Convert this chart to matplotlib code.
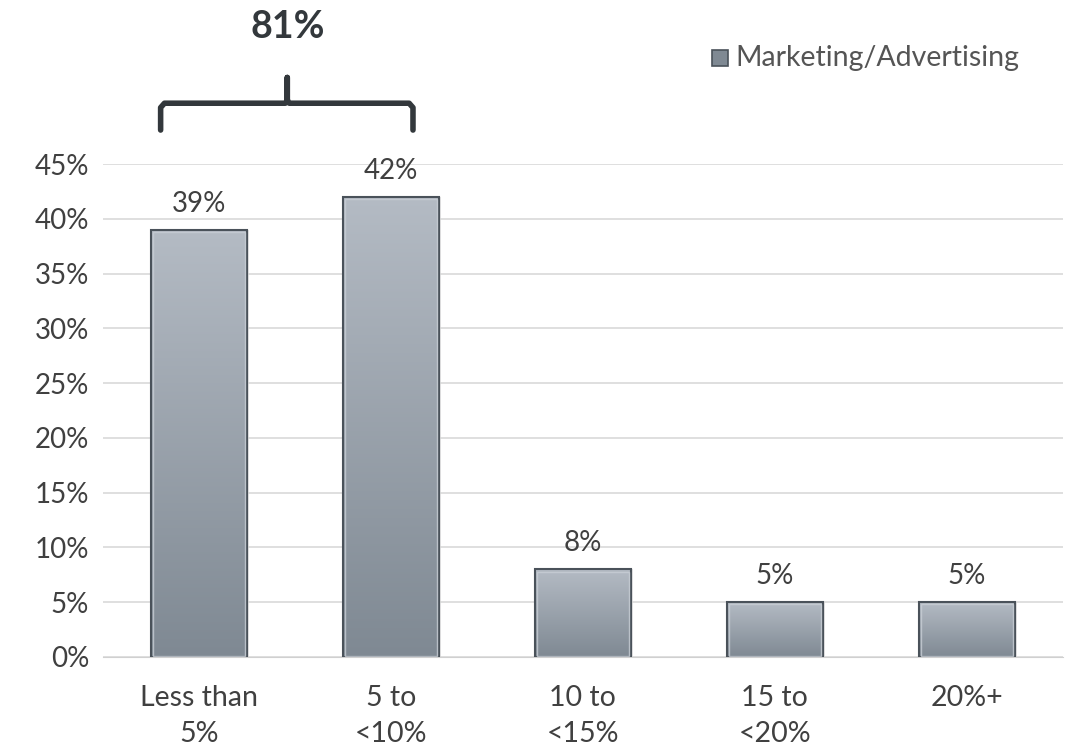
import numpy as np
import matplotlib
matplotlib.use("Agg")
import matplotlib.pyplot as plt
from matplotlib.patches import Rectangle
from matplotlib.lines import Line2D

categories = ["Less than\n5%", "5 to\n<10%", "10 to\n<15%", "15 to\n<20%", "20%+"]
values = [0.39, 0.42, 0.08, 0.05, 0.05]
labels = ["39%", "42%", "8%", "5%", "5%"]
yticks = [0, 0.05, 0.10, 0.15, 0.20, 0.25, 0.30, 0.35, 0.40, 0.45]
ytick_labels = ["0%", "5%", "10%", "15%", "20%", "25%", "30%", "35%", "40%", "45%"]
series_name = "Marketing/Advertising"
brace_label = "81%"

plt.rcParams['font.family'] = ['Lato', 'DejaVu Sans']
txt = "#404040"

fig = plt.figure(figsize=(10.69, 7.51), dpi=100)
ax = fig.add_axes([0.0964, 0.1252, 0.8976, 0.6564])
x = np.arange(len(values))
width = 0.5

ax.set_xlim(-0.5, len(values) - 0.5)
ax.set_ylim(0, 0.45)
ax.set_yticks(yticks)
ax.set_yticklabels(ytick_labels, fontsize=20, color=txt)
ax.set_xticks(x)
ax.set_xticklabels(categories, fontsize=20.5, color=txt, linespacing=1.5)
ax.tick_params(axis='x', length=0, pad=20)
ax.tick_params(axis='y', length=0, pad=10)
for s in ["top", "right", "left"]:
    ax.spines[s].set_visible(False)
ax.spines["bottom"].set_color("#d0d0d0")
ax.grid(axis='y', color="#d9d9d9", linewidth=1.2)
ax.set_axisbelow(True)

grad = np.linspace(0, 1, 256).reshape(-1, 1)
cmap = matplotlib.colors.LinearSegmentedColormap.from_list("g", ["#7f8993", "#b4bbc4"])
bars = ax.bar(x, values, width=width, color="none", edgecolor="none", zorder=2)
for b in bars:
    x0, y0, w, h = b.get_x(), b.get_y(), b.get_width(), b.get_height()
    ax.add_patch(Rectangle((x0 + 0.012, y0), w, h, facecolor="#d8d8d8", edgecolor="none", zorder=1.5, alpha=0.7))
    im = ax.imshow(grad, extent=[x0, x0 + w, y0, y0 + h], aspect='auto', cmap=cmap, zorder=2,
                   origin='lower')
    im.set_clip_path(b)
    ax.add_patch(Rectangle((x0, y0), w, h, facecolor="none", edgecolor="#4a525a", linewidth=1.5, zorder=3))
    ax.add_patch(Rectangle((x0 + 0.01, y0 + 0.001), w - 0.02, h - 0.003, facecolor="none",
                           edgecolor="#c8ced5", linewidth=1.0, zorder=3, alpha=0.8))
ax.set_xlim(-0.5, len(values) - 0.5)
ax.set_ylim(0, 0.45)

for xi, v, lab in zip(x, values, labels):
    ax.text(xi, v + 0.012, lab, ha='center', va='bottom', fontsize=20, color=txt)

# brace
bc = "#33383c"
xl, xr, xm = -0.2, 1.115, 0.46
yb, yh, yt = 0.481, 0.5055, 0.529
ax.add_line(Line2D([xl, xl, xl + 0.02, xm - 0.01, xm, xm, xm, xm + 0.01, xr - 0.02, xr, xr],
                   [yb, yh - 0.004, yh, yh, yh + 0.003, yt, yh + 0.003, yh, yh, yh - 0.004, yb],
                   color=bc, linewidth=4, solid_capstyle='round', solid_joinstyle='round', clip_on=False))
ax.text(xm, 0.575, brace_label, ha='center', va='center', fontsize=27, fontweight='bold', color=bc)

# legend
fig.patches.append(Rectangle((712 / 1069, 1 - 66 / 751), 16 / 1069, 16 / 751, transform=fig.transFigure,
                             facecolor="#7f8993", edgecolor="#4a525a", linewidth=1.2))
fig.text(735 / 1069, 1 - 58 / 751, series_name, ha='left', va='center', fontsize=20.5, color="#555555")

fig.savefig("out.png", dpi=100, facecolor="white")
